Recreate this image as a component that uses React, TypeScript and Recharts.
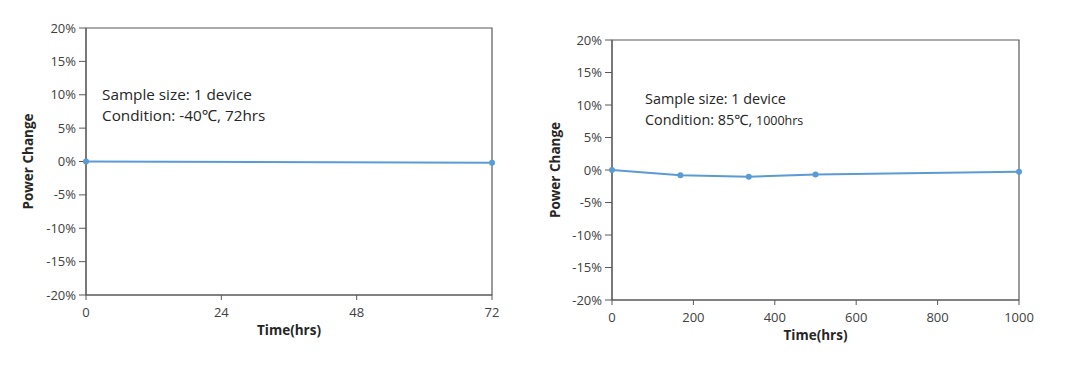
import { LineChart, Line, XAxis, YAxis, ReferenceArea, Label } from "recharts"

const coldHours = [0, 72]
const coldChange = [0, -0.2]
const coldTicks = [0, 24, 48, 72]

const heatHours = [0, 168, 336, 500, 1000]
const heatChange = [0, -0.8, -1.05, -0.7, -0.25]
const heatTicks = [0, 200, 400, 600, 800, 1000]

const changeTicks = [-20, -15, -10, -5, 0, 5, 10, 15, 20]

const FONT = "'Open Sans', 'Noto Sans', sans-serif"
const LINE = "#5b9bd5"
const FRAME = "#595959"
const TEXT = "#404040"

interface PanelProps {
  hours: number[]
  change: number[]
  ticks: number[]
  left: number
  width: number
  margin: { top: number; right: number; left: number; bottom: number }
  yAxisWidth: number
  yLabelOffset: number
  line1: string
  line2: React.ReactNode
  noteLeft: number
  noteTop: number
  noteSize: number
}

function Panel(p: PanelProps) {
  const data = p.hours.map((h, i) => ({ t: h, v: p.change[i] }))
  const maxX = p.ticks[p.ticks.length - 1]
  return (
    <div style={{ position: "absolute", left: p.left, top: 0, width: p.width, height: 372 }}>
      <LineChart width={p.width} height={372} data={data} margin={p.margin}>
        <ReferenceArea x1={0} x2={maxX} y1={-20} y2={20} fill="none" stroke={FRAME} strokeWidth={1.2} />
        <XAxis
          dataKey="t"
          type="number"
          domain={[0, maxX]}
          ticks={p.ticks}
          height={50}
          tickSize={5}
          tickMargin={8}
          stroke={FRAME}
          tick={{ fontSize: 13, fill: TEXT, fontFamily: FONT }}
        >
          <Label
            value="Time(hrs)"
            position="insideBottom"
            offset={10}
            style={{ fontSize: 13.5, fontWeight: 700, fill: "#262626", fontFamily: FONT }}
          />
        </XAxis>
        <YAxis
          type="number"
          domain={[-20, 20]}
          ticks={changeTicks}
          width={p.yAxisWidth}
          tickSize={7}
          tickMargin={3}
          stroke={FRAME}
          tickFormatter={(v) => `${v}%`}
          tick={{ fontSize: 13, fill: TEXT, fontFamily: FONT }}
        >
          <Label
            value="Power Change"
            angle={-90}
            position="insideLeft"
            offset={p.yLabelOffset}
            style={{ fontSize: 13.5, fontWeight: 700, fill: "#262626", fontFamily: FONT, textAnchor: "middle" }}
          />
        </YAxis>
        <Line
          dataKey="v"
          stroke={LINE}
          strokeWidth={2}
          dot={{ r: 3, fill: LINE, stroke: LINE, strokeWidth: 0 }}
          isAnimationActive={false}
        />
      </LineChart>
      <div
        style={{
          position: "absolute",
          left: p.noteLeft,
          top: p.noteTop,
          fontFamily: FONT,
          fontSize: p.noteSize,
          lineHeight: "21px",
          color: "#262626",
          whiteSpace: "nowrap",
        }}
      >
        <div>{p.line1}</div>
        <div>{p.line2}</div>
      </div>
    </div>
  )
}

export default function App() {
  return (
    <div style={{ position: "absolute", left: 0, top: 0, width: 1080, height: 372, background: "#fff" }}>
      <Panel
        hours={coldHours}
        change={coldChange}
        ticks={coldTicks}
        left={0}
        width={520}
        margin={{ top: 28, right: 28, left: 0, bottom: 27 }}
        yAxisWidth={86}
        yLabelOffset={28}
        line1="Sample size: 1 device"
        line2="Condition: -40℃, 72hrs"
        noteLeft={102}
        noteTop={84}
        noteSize={15.3}
      />
      <Panel
        hours={heatHours}
        change={heatChange}
        ticks={heatTicks}
        left={540}
        width={540}
        margin={{ top: 40, right: 61, left: 0, bottom: 22 }}
        yAxisWidth={72}
        yLabelOffset={15}
        line1="Sample size: 1 device"
        line2={
          <>
            Condition: 85℃, <span style={{ fontSize: 12.5 }}>1000hrs</span>
          </>
        }
        noteLeft={105}
        noteTop={88}
        noteSize={14.4}
      />
    </div>
  )
}
